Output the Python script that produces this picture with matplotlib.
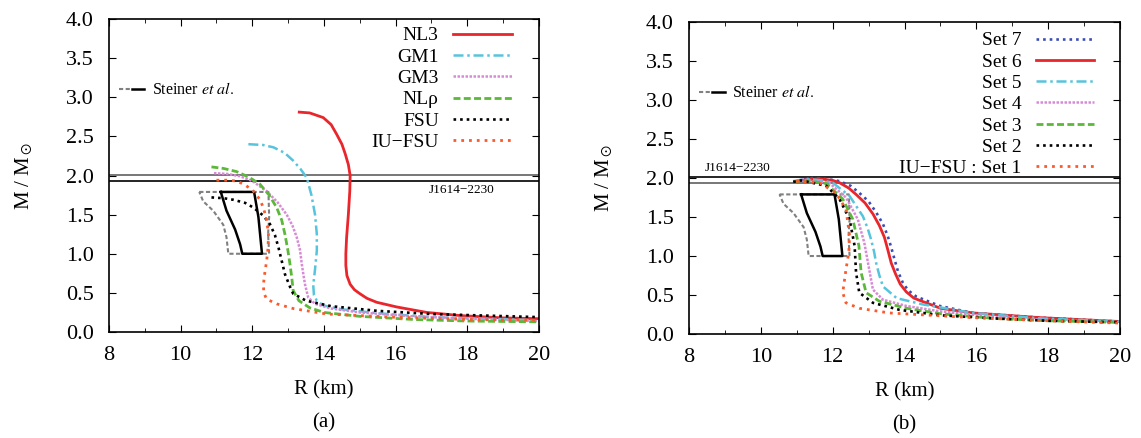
import numpy as np
import matplotlib
matplotlib.use('Agg')
import matplotlib.pyplot as plt
from matplotlib.ticker import MultipleLocator, FormatStrFormatter
from matplotlib.legend_handler import HandlerTuple

plt.rcParams['font.family'] = 'serif'
plt.rcParams['font.serif'] = ['Liberation Serif', 'DejaVu Serif']
plt.rcParams['mathtext.fontset'] = 'stix'

# ---- panel (a): M-R curves for the different models ----
nl3_r = [13.31, 13.6, 13.98, 14.2, 14.35, 14.5, 14.59, 14.68, 14.73, 14.72, 14.68, 14.63, 14.61, 14.61,
         14.64, 14.73, 14.85, 15.0, 15.2, 15.47, 16.03, 16.87, 17.8, 19.0, 20.0]
nl3_m = [2.81, 2.80, 2.74, 2.65, 2.53, 2.40, 2.28, 2.14, 2.0, 1.8, 1.5, 1.2, 1.0, 0.85,
         0.72, 0.61, 0.54, 0.49, 0.43, 0.38, 0.32, 0.25, 0.21, 0.18, 0.17]
gm1_r = [11.89, 12.3, 12.59, 12.9, 13.14, 13.35, 13.52, 13.65, 13.75, 13.8, 13.8, 13.75, 13.7, 13.72,
         13.8, 13.98, 14.5, 15.5, 17.0, 18.5, 20.0]
gm1_m = [2.40, 2.39, 2.36, 2.29, 2.19, 2.08, 1.97, 1.75, 1.50, 1.25, 1.04, 0.80, 0.60, 0.47,
         0.40, 0.34, 0.29, 0.24, 0.19, 0.17, 0.15]
gm3_r = [10.93, 11.3, 11.66, 12.0, 12.4, 12.7, 12.96, 13.12, 13.24, 13.33, 13.38, 13.43, 13.47, 13.56,
         13.75, 14.2, 15.0, 16.5, 18.0, 20.0]
gm3_m = [2.03, 2.02, 1.99, 1.93, 1.80, 1.66, 1.50, 1.36, 1.21, 1.05, 0.87, 0.72, 0.61, 0.44,
         0.36, 0.30, 0.25, 0.20, 0.17, 0.14]
nlr_r = [10.86, 11.2, 11.56, 11.9, 12.21, 12.47, 12.68, 12.82, 12.91, 12.99, 13.05, 13.1, 13.14, 13.3,
         13.6, 14.0, 15.0, 16.5, 18.0, 20.0]
nlr_m = [2.11, 2.09, 2.05, 1.98, 1.89, 1.75, 1.59, 1.43, 1.25, 1.05, 0.87, 0.70, 0.53, 0.40,
         0.31, 0.25, 0.20, 0.16, 0.14, 0.13]
fsu_r = [10.86, 11.2, 11.47, 11.8, 12.03, 12.3, 12.49, 12.63, 12.73, 12.82, 12.91, 13.05, 13.14, 13.5,
         14.2, 15.5, 17.0, 18.5, 20.0]
fsu_m = [1.72, 1.71, 1.69, 1.65, 1.59, 1.49, 1.38, 1.24, 1.08, 0.91, 0.74, 0.58, 0.49, 0.40,
         0.33, 0.27, 0.23, 0.21, 0.19]
iu_r = [11.0, 11.3, 11.56, 11.8, 12.03, 12.2, 12.31, 12.4, 12.45, 12.44, 12.4, 12.35, 12.31, 12.32,
        12.4, 12.68, 13.14, 14.07, 15.9, 18.0, 20.0]
iu_m = [1.94, 1.94, 1.93, 1.88, 1.80, 1.70, 1.59, 1.43, 1.25, 1.08, 0.91, 0.76, 0.61, 0.50,
        0.42, 0.36, 0.30, 0.23, 0.19, 0.16, 0.15]

# ---- panel (b): parameter sets ----
s7_r = [11.2, 11.44, 11.8, 12.19, 12.5, 12.74, 13.0, 13.21, 13.4, 13.53, 13.63, 13.72, 13.82, 13.95,
        14.1, 14.33, 14.98, 15.91, 17.77, 20.0]
s7_m = [1.98, 2.0, 1.99, 1.96, 1.90, 1.81, 1.70, 1.56, 1.41, 1.26, 1.11, 0.96, 0.80, 0.66,
        0.56, 0.48, 0.36, 0.27, 0.21, 0.16]
s6_r = [11.1, 11.63, 12.0, 12.19, 12.45, 12.65, 12.9, 13.12, 13.3, 13.44, 13.54, 13.63, 13.75, 13.88,
        14.05, 14.26, 15.0, 15.91, 17.77, 20.0]
s6_m = [1.97, 1.99, 1.97, 1.94, 1.87, 1.79, 1.68, 1.54, 1.39, 1.24, 1.07, 0.91, 0.77, 0.64,
        0.54, 0.46, 0.33, 0.27, 0.21, 0.16]
s5_r = [10.9, 11.26, 11.7, 12.0, 12.47, 12.84, 12.97, 13.07, 13.15, 13.21, 13.3, 13.4, 13.78, 14.5,
        15.9, 17.8, 20.0]
s5_m = [1.96, 1.99, 1.97, 1.94, 1.77, 1.51, 1.36, 1.21, 1.06, 0.91, 0.75, 0.61, 0.46, 0.38,
        0.27, 0.20, 0.16]
s4_r = [10.9, 11.17, 11.9, 12.37, 12.7, 12.88, 13.0, 13.12, 13.4, 14.05, 15.0, 16.5, 18.0, 20.0]
s4_m = [1.95, 1.98, 1.94, 1.75, 1.47, 1.17, 0.87, 0.57, 0.44, 0.36, 0.29, 0.22, 0.18, 0.15]
s3_r = [10.9, 11.17, 11.82, 12.28, 12.56, 12.73, 12.79, 12.93, 13.3, 14.05, 15.0, 16.5, 18.0, 20.0]
s3_m = [1.95, 1.97, 1.93, 1.73, 1.47, 1.13, 0.79, 0.53, 0.42, 0.33, 0.26, 0.20, 0.17, 0.15]
s2_r = [10.9, 11.12, 11.82, 12.19, 12.47, 12.61, 12.65, 12.74, 13.12, 13.86, 15.0, 16.5, 18.0, 20.0]
s2_m = [1.95, 1.97, 1.90, 1.73, 1.47, 1.13, 0.79, 0.53, 0.40, 0.31, 0.24, 0.20, 0.17, 0.15]
s1_r = [10.98, 11.63, 12.09, 12.37, 12.47, 12.45, 12.37, 12.28, 12.37, 12.74, 13.58, 15.91, 18.0, 20.0]
s1_m = [1.96, 1.94, 1.81, 1.60, 1.26, 1.05, 0.83, 0.53, 0.40, 0.33, 0.27, 0.21, 0.17, 0.14]

# Steiner et al. contours
st_in_r = [11.12, 12.05, 12.17, 12.27, 11.72, 11.66, 11.52, 11.28, 11.12]
st_in_m = [1.79, 1.79, 1.47, 1.0, 1.0, 1.12, 1.31, 1.55, 1.79]
st_out_r = [10.52, 12.45, 12.47, 12.44, 12.47, 11.33, 11.28, 11.19, 10.91, 10.63, 10.52]
st_out_m = [1.79, 1.79, 1.47, 1.25, 1.0, 1.0, 1.21, 1.37, 1.55, 1.67, 1.79]

# J1614-2230 band
j_lo, j_hi = 1.93, 2.01

red = '#e8262b'
cyan = '#56c4dc'
pink = '#d78ad6'
green = '#5cb83a'
orange = '#fb5a2c'
blue = '#3b4db5'

styles_a = [
    ('NL3', nl3_r, nl3_m, dict(color=red, ls='-', lw=2.0)),
    ('GM1', gm1_r, gm1_m, dict(color=cyan, ls=(0, (4, 1.5, 1, 1.5)), lw=1.8)),
    ('GM3', gm3_r, gm3_m, dict(color=pink, ls=(0, (1, 0.6)), lw=1.8)),
    ('NLρ', nlr_r, nlr_m, dict(color=green, ls=(0, (2.5, 1.2)), lw=2.0)),
    ('FSU', fsu_r, fsu_m, dict(color='black', ls=(0, (1, 1.5)), lw=1.9)),
    ('IU\u2212FSU', iu_r, iu_m, dict(color=orange, ls=(0, (1, 1.8)), lw=2.0)),
]
styles_b = [
    ('Set 7', s7_r, s7_m, dict(color=blue, ls=(0, (1, 1.5)), lw=1.9)),
    ('Set 6', s6_r, s6_m, dict(color=red, ls='-', lw=2.0)),
    ('Set 5', s5_r, s5_m, dict(color=cyan, ls=(0, (4, 1.5, 1, 1.5)), lw=1.8)),
    ('Set 4', s4_r, s4_m, dict(color=pink, ls=(0, (1, 0.6)), lw=1.8)),
    ('Set 3', s3_r, s3_m, dict(color=green, ls=(0, (2.5, 1.2)), lw=2.0)),
    ('Set 2', s2_r, s2_m, dict(color='black', ls=(0, (1, 1.5)), lw=1.9)),
    ('IU\u2212FSU : Set 1', s1_r, s1_m, dict(color=orange, ls=(0, (1, 1.8)), lw=2.0)),
]

fig = plt.figure(figsize=(11.41, 4.38), dpi=100)
ax_a = fig.add_axes([0.0955, 0.242, 0.3769, 0.7146])
ax_b = fig.add_axes([0.6039, 0.2374, 0.3777, 0.7123])


def draw_panel(ax, styles, top_col, bot_col, jx, jy, jha, leg_anchor, st_y, tag):
    ax.axhline(j_hi, color=top_col, lw=1.2)
    ax.axhline(j_lo, color=bot_col, lw=1.2)
    ax.text(jx, jy, 'J1614\u22122230', fontsize=9.5, ha=jha, va='center')

    g, = ax.plot(st_out_r, st_out_m, color='#808080', ls=(0, (2, 1.2)), lw=1.5)
    b, = ax.plot(st_in_r, st_in_m, color='black', ls='-', lw=1.8)

    lines = []
    for name, r, m, kw in styles:
        ln, = ax.plot(r, m, label=name, **kw)
        lines.append(ln)

    leg = ax.legend(handles=lines, loc='upper right', bbox_to_anchor=leg_anchor,
                    frameon=False, markerfirst=False, fontsize=14, handlelength=3.0,
                    handletextpad=0.75, labelspacing=0.19, borderpad=0)
    ax.add_artist(leg)
    ax.legend([(g, b)], [r'Steiner $\mathit{et\ al.}$'], loc='center left',
              bbox_to_anchor=(0.023, st_y), frameon=False, fontsize=11.5,
              handlelength=1.6, handletextpad=0.45, borderpad=0, borderaxespad=0,
              handler_map={tuple: HandlerTuple(ndivide=None, pad=0)})

    ax.set_xlim(8, 20)
    ax.set_ylim(0, 4)
    ax.xaxis.set_major_locator(MultipleLocator(2))
    ax.xaxis.set_minor_locator(MultipleLocator(1))
    ax.yaxis.set_major_locator(MultipleLocator(0.5))
    ax.yaxis.set_major_formatter(FormatStrFormatter('%.1f'))
    ax.tick_params(which='both', direction='in', top=True, right=True, labelsize=16)
    ax.tick_params(axis='x', pad=10)
    ax.tick_params(axis='y', pad=11)
    ax.tick_params(which='major', length=5)
    ax.tick_params(which='minor', length=3)
    for s in ax.spines.values():
        s.set_linewidth(1.2)
    ax.set_xlabel('R (km)', fontsize=15, labelpad=11)
    ax.set_ylabel(r'M / M$_\odot$', fontsize=15, labelpad=22)
    ax.text(0.5, -0.29, tag, transform=ax.transAxes, ha='center', va='center', fontsize=15)


draw_panel(ax_a, styles_a, '#606060', 'black', 17.85, 1.82, 'center', (0.959, 1.006), 0.772, '(a)')
draw_panel(ax_b, styles_b, 'black', '#606060', 8.45, 2.13, 'left', (0.963, 1.0), 0.772, '(b)')

fig.savefig('out.png', dpi=100)
